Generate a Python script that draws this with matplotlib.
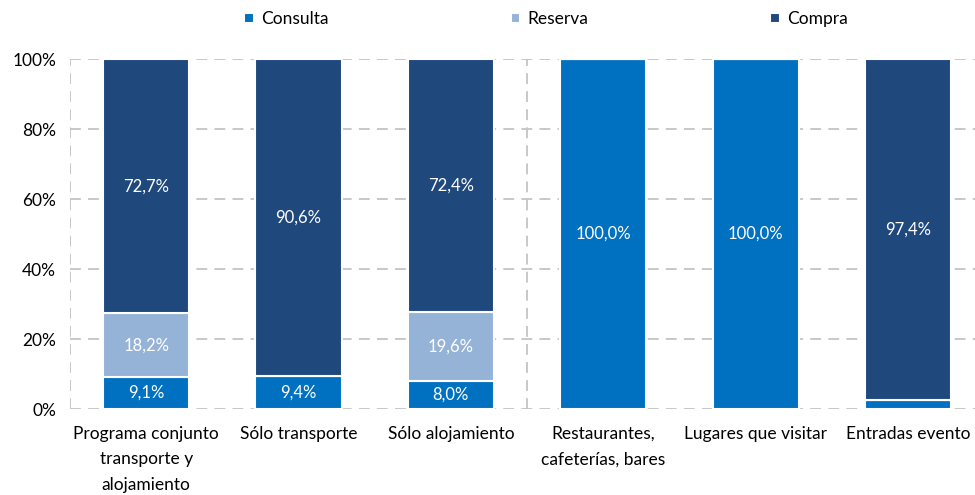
import matplotlib
matplotlib.use("Agg")
import matplotlib.pyplot as plt
import numpy as np

categories = ["Programa conjunto\ntransporte y\nalojamiento", "Sólo transporte", "Sólo alojamiento",
              "Restaurantes,\ncafeterías, bares", "Lugares que visitar", "Entradas evento"]
consulta = [9.1, 9.4, 8.0, 100.0, 100.0, 2.6]
reserva = [18.2, 0.0, 19.6, 0.0, 0.0, 0.0]
compra = [72.7, 90.6, 72.4, 0.0, 0.0, 97.4]
series_names = ["Consulta", "Reserva", "Compra"]
colors = ["#0070C0", "#95B3D7", "#1F497D"]
show_labels = [[True, True, True, True, True, False],
               [True, False, True, False, False, False],
               [True, True, True, False, False, True]]

plt.rcParams['font.family'] = ['Lato', 'DejaVu Sans']
fig = plt.figure(figsize=(9.75, 4.95), dpi=100)
ax = fig.add_axes([70/975, 1-409/495, 1-70/975, 350/495])

x = np.arange(len(categories))
width = 0.565
grid_kw = dict(color="#C4C4C4", linewidth=1.3, dashes=(6, 4), zorder=0)
for yv in [0, 20, 40, 60, 80, 100]:
    ax.axhline(yv, **grid_kw)
ax.axvline(-0.5, **grid_kw)
ax.axvline(2.5, **grid_kw)

bottom = np.zeros(len(categories))
for vals, name, col, lab in zip([consulta, reserva, compra], series_names, colors, show_labels):
    vals = np.array(vals)
    ax.bar(x, vals, width, bottom=bottom, color=col, edgecolor="white",
           linewidth=1.5, label=name, zorder=2)
    for i, (v, b) in enumerate(zip(vals, bottom)):
        if lab[i] and v > 0:
            ax.text(x[i], b + v/2, f"{v:.1f}%".replace(".", ","), ha="center", va="center",
                    color="white", fontsize=12, zorder=3)
    bottom += vals

ax.set_xlim(-0.5, 5.44)
ax.set_ylim(0, 100)
ax.set_yticks([0, 20, 40, 60, 80, 100])
ax.set_yticklabels([f"{v}%" for v in [0, 20, 40, 60, 80, 100]])
ax.set_xticks(x)
ax.set_xticklabels(categories)
for t in ax.get_xticklabels():
    t.set_linespacing(1.75)
ax.tick_params(axis="both", length=0, labelsize=12.5, colors="black")
ax.tick_params(axis="y", pad=10)
ax.tick_params(axis="x", pad=12)
for s in ax.spines.values():
    s.set_visible(False)

fig.legend(loc="center", bbox_to_anchor=(0.56, 1-19/495), ncol=3, frameon=False,
           fontsize=12.5, handlelength=0.55, handleheight=0.55, handletextpad=0.4,
           columnspacing=10.5)

fig.savefig("out.png", dpi=100)
